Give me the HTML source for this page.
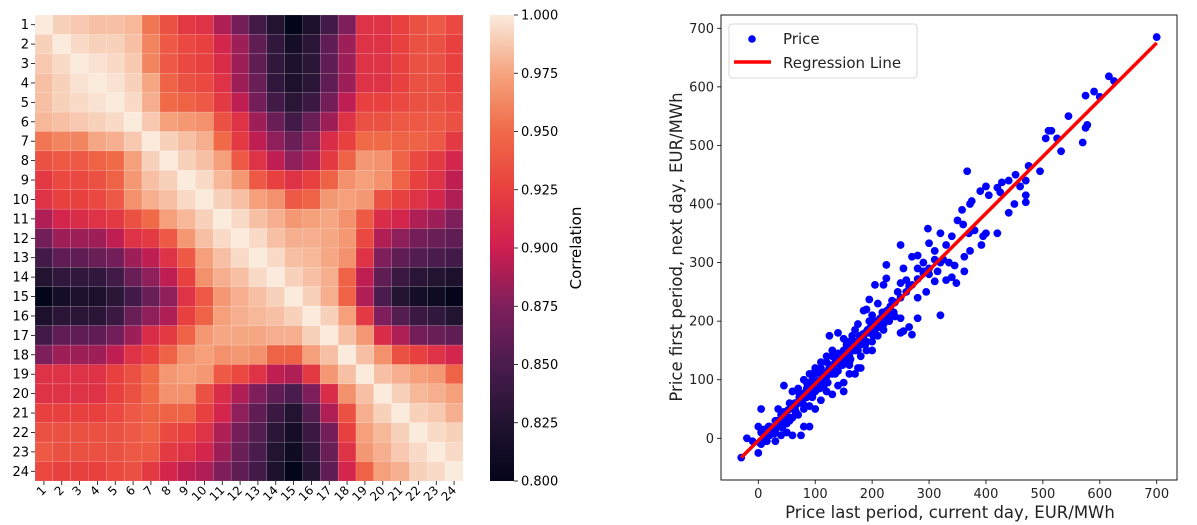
<!DOCTYPE html>
<html><head><meta charset="utf-8"><style>
body{margin:0;background:#fff;}
svg{display:block;font-family:"DejaVu Sans","Liberation Sans",sans-serif;}
</style></head><body>
<svg id="fig" width="1197" height="525" viewBox="0 0 1197 525">
<defs>
<linearGradient id="cbgrad" x1="0" y1="1" x2="0" y2="0">
<stop offset="0" stop-color="#03051a"/><stop offset="0.125" stop-color="#221331"/>
<stop offset="0.25" stop-color="#4a1c4d"/><stop offset="0.375" stop-color="#7e1f5c"/>
<stop offset="0.5" stop-color="#cf1e50"/><stop offset="0.625" stop-color="#e8403f"/>
<stop offset="0.75" stop-color="#f06a48"/><stop offset="0.875" stop-color="#f5a47f"/>
<stop offset="1" stop-color="#faebdd"/>
</linearGradient>
</defs>
<g id="heat"></g>
<g id="cbar"></g>
<g id="scat"></g>
</svg>
<script>
const hours = ["1","2","3","4","5","6","7","8","9","10","11","12","13","14","15","16","17","18","19","20","21","22","23","24"];
const upperRows = [
[1,.991,.988,.985,.985,.982,.955,.935,.92,.915,.89,.87,.845,.825,.80,.82,.845,.875,.915,.915,.925,.935,.94,.93],
[1,.994,.991,.991,.985,.961,.94,.93,.925,.905,.885,.86,.835,.815,.83,.86,.885,.915,.915,.925,.935,.935,.925],
[1,.997,.994,.988,.961,.94,.93,.925,.91,.885,.86,.835,.82,.83,.86,.885,.915,.915,.925,.935,.935,.925],
[1,.997,.991,.976,.945,.935,.93,.915,.885,.865,.835,.82,.83,.86,.885,.915,.915,.925,.935,.935,.925],
[1,.994,.979,.95,.945,.94,.92,.895,.87,.845,.83,.84,.87,.895,.925,.925,.93,.935,.935,.93],
[1,.988,.973,.97,.967,.935,.915,.885,.865,.845,.865,.885,.915,.935,.935,.94,.94,.94,.935],
[1,.991,.985,.979,.95,.92,.895,.88,.865,.88,.91,.925,.95,.95,.945,.945,.94,.92],
[1,.991,.985,.973,.94,.915,.895,.88,.89,.92,.945,.97,.967,.945,.93,.92,.905],
[1,.994,.982,.97,.94,.925,.915,.925,.945,.967,.973,.967,.945,.925,.915,.895],
[1,.991,.985,.973,.967,.94,.945,.97,.973,.97,.935,.925,.915,.905,.89],
[1,.994,.985,.979,.97,.973,.976,.967,.94,.91,.905,.89,.885,.875],
[1,.994,.985,.979,.979,.976,.97,.93,.89,.88,.87,.865,.86],
[1,.994,.985,.982,.976,.967,.915,.875,.86,.855,.85,.845],
[1,.991,.985,.979,.945,.895,.86,.84,.83,.825,.82],
[1,.991,.979,.945,.89,.85,.825,.815,.81,.80],
[1,.991,.973,.92,.875,.855,.84,.835,.825],
[1,.985,.97,.91,.89,.87,.865,.86],
[1,.985,.967,.935,.925,.915,.905],
[1,.985,.979,.973,.97,.945],
[1,.991,.982,.979,.973],
[1,.991,.988,.979],
[1,.994,.991],
[1,.994],
[1]
];
const cbTicks = [0.800,0.825,0.850,0.875,0.900,0.925,0.950,0.975,1.000];
const priceX = [700,616,625,590,575,600,545,510,515,505,525,532,570,575,578,495,475,452,470,470,470,450,440,460,440,428,420,425,367,400,390,405,375,372,358,350,360,340,370,380,395,400,420,392,372,362,348,362,340,330,310,320,298,300,330,250,225,225,205,220,270,280,290,300,310,320,335,345,295,280,280,320,270,265,250,255,240,250,230,235,245,255,260,265,250,280,290,300,315,325,310,200,190,200,195,190,185,195,210,215,220,205,200,175,170,165,160,155,150,140,125,130,120,110,100,90,95,85,80,70,60,75,65,55,45,35,40,30,20,10,5,0,-30,-20,0,10,20,30,40,50,60,70,80,90,75,80,90,100,110,120,130,140,150,150,160,170,175,180,145,135,125,115,105,100,95,85,75,65,55,45,35,25,15,5,-10,50,60,40,30,100,110,120,130,140,150,160,170,180,190,200,210,220,230,110,120,130,140,150,160,170,180,185,210,220,230,160,165,180,
 5,12,18,25,32,38,45,52,58,65,72,78,85,92,98,105,112,118,125,132,138,145,152,158,165,172,178,185,192,198,205,212,218,225,232,238,8,15,22,28,35,42,48,55,62,68,75,82,88,95,102,108,115,122,128,135,142,148,155,162,168,175,182,188,195,202,70,85,100,115,130,145,160,175,190,205,220,235,
 3,10,16,22,28,34,40,46,52,58,64,70,76,82,88,94,100,106,112,118,124,130,136,142,148,154,160,166,172,178,184,190,196,202,208,214,220,226,232,240,250,260,270,280,290];
const priceY = [685,618,610,592,585,583,550,525,525,512,512,490,505,530,535,456,465,450,440,415,403,400,385,430,440,437,428,420,456,430,422,415,405,400,390,372,365,345,350,355,345,350,350,330,320,310,265,285,275,270,268,350,358,333,330,330,296,273,262,262,310,312,300,290,305,300,300,295,250,240,205,210,177,190,180,183,208,205,215,235,250,290,270,260,265,290,285,280,285,305,320,150,150,165,200,220,218,237,230,200,185,190,210,195,185,175,165,160,170,180,175,150,140,130,120,110,100,95,100,80,80,70,55,60,90,50,40,30,20,15,50,-25,-33,0,20,0,5,10,20,25,35,40,50,55,5,20,20,50,65,80,75,90,95,80,110,110,120,140,125,130,120,110,95,80,75,70,60,45,35,25,20,10,-5,-10,-5,10,5,5,-5,110,120,130,140,145,150,155,165,175,180,185,200,210,220,100,105,110,115,135,140,150,160,175,175,195,200,130,150,120,
 10,0,20,12,30,22,45,35,55,48,70,60,85,75,95,90,110,100,125,115,135,130,150,140,160,155,175,165,185,180,200,190,215,205,225,215,-5,5,15,8,25,18,40,30,50,42,65,55,78,70,90,85,105,95,120,110,130,125,145,135,155,150,170,160,180,175,85,70,115,90,115,140,125,160,165,185,195,210,
 -8,2,8,18,15,28,32,38,48,52,60,62,72,78,80,88,95,98,108,112,118,122,128,135,140,145,152,158,162,168,178,182,188,195,200,205,215,218,225,232,240,250,262,272,282];
const regX = [-30,700];
const regY = [-33,675];
const xTicks = [0,100,200,300,400,500,600,700];
const yTicks = [0,100,200,300,400,500,600,700];

const NS="http://www.w3.org/2000/svg";
function mk(tag,attrs,parent){const e=document.createElementNS(NS,tag);for(const k in attrs)e.setAttribute(k,attrs[k]);parent.appendChild(e);return e;}
function hex(h){return [1,3,5].map(i=>parseInt(h.substr(i,2),16));}
const stops=[[0,"#03051a"],[.125,"#221331"],[.25,"#4a1c4d"],[.375,"#7e1f5c"],[.5,"#cf1e50"],[.625,"#e8403f"],[.75,"#f06a48"],[.875,"#f5a47f"],[1,"#faebdd"]];
function cmap(v){let t=(v-0.8)/0.2;t=Math.max(0,Math.min(1,t));for(let i=0;i<stops.length-1;i++){if(t<=stops[i+1][0]){const a=hex(stops[i][1]),b=hex(stops[i+1][1]);const f=(t-stops[i][0])/(stops[i+1][0]-stops[i][0]);return "rgb("+a.map((c,k)=>Math.round(c+(b[k]-c)*f)).join(",")+")";}}return stops[8][1];}

const heat=document.getElementById('heat');
const HX0=35,HY0=15,HW=428,HH=466,n=hours.length,cw=HW/n,ch=HH/n;
function corr(i,j){return i<=j?upperRows[i][j-i]:upperRows[j][i-j];}
for(let i=0;i<n;i++){for(let j=0;j<n;j++){
 const r=mk('rect',{x:HX0+j*cw,y:HY0+i*ch,width:cw,height:ch,fill:cmap(corr(i,j)),stroke:"rgba(255,255,255,0.25)","stroke-width":0.5},heat);
 
 
}}
for(let i=0;i<n;i++){
 const y=HY0+(i+0.5)*ch;
 mk('line',{x1:HX0-4,x2:HX0,y1:y,y2:y,stroke:"#000","stroke-width":0.8},heat);
 const t=mk('text',{x:HX0-6,y:y+4.5,"text-anchor":"end","font-size":13,fill:"#000"},heat);t.textContent=hours[i];
 
 
 const x=HX0+(i+0.5)*cw;
 mk('line',{x1:x,x2:x,y1:HY0+HH,y2:HY0+HH+4,stroke:"#000","stroke-width":0.8},heat);
 const u=mk('text',{x:x+3,y:HY0+HH+10,"text-anchor":"end","font-size":12,fill:"#000",transform:`rotate(-45 ${x+3} ${HY0+HH+10})`},heat);u.textContent=hours[i];
 
 
}
const cb=document.getElementById('cbar');
const CX=490,CW=24,CY0=15,CH=466;
mk('rect',{x:CX,y:CY0,width:CW,height:CH,fill:"url(#cbgrad)"},cb);
cbTicks.forEach(v=>{const y=CY0+CH-(v-0.8)/0.2*CH;
 mk('line',{x1:CX+CW,x2:CX+CW+4,y1:y,y2:y,stroke:"#000","stroke-width":0.8},cb);
 const t=mk('text',{x:CX+CW+7,y:y+4.5,"font-size":13,fill:"#000"},cb);t.textContent=v.toFixed(3);
 
 
});
const cl=mk('text',{x:581,y:248,"font-size":15,"text-anchor":"middle",fill:"#000",transform:"rotate(-90 581 248)"},cb);cl.textContent="Correlation";



const sc=document.getElementById('scat');
const AX0=721,AX1=1177,AY0=15,AY1=480;
const sx=v=>758.3+v*(1156.7-758.3)/700;
const sy=v=>438.3-v*(438.3-28.3)/700;
priceX.forEach((x,i)=>{const c=mk('circle',{cx:sx(x),cy:sy(priceY[i]),r:3.9,fill:"#0000ff"},sc);
 
 });
const rl=mk('line',{x1:sx(regX[0]),y1:sy(regY[0]),x2:sx(regX[1]),y2:sy(regY[1]),stroke:"#ff0000","stroke-width":3.5},sc);


mk('rect',{x:AX0,y:AY0,width:AX1-AX0,height:AY1-AY0,fill:"none",stroke:"#000","stroke-width":0.9},sc);
xTicks.forEach(v=>{const x=sx(v);mk('line',{x1:x,x2:x,y1:AY1,y2:AY1+4,stroke:"#000","stroke-width":0.8},sc);
 const t=mk('text',{x:x,y:AY1+18,"text-anchor":"middle","font-size":13,fill:"#222"},sc);t.textContent=v;
 
 });
yTicks.forEach(v=>{const y=sy(v);mk('line',{x1:AX0-4,x2:AX0,y1:y,y2:y,stroke:"#000","stroke-width":0.8},sc);
 const t=mk('text',{x:AX0-7,y:y+4.5,"text-anchor":"end","font-size":13,fill:"#222"},sc);t.textContent=v;
 
 });
const xl=mk('text',{x:950,y:518,"text-anchor":"middle","font-size":16.5,fill:"#222"},sc);xl.textContent="Price last period, current day, EUR/MWh";


const yl=mk('text',{x:682,y:247,"text-anchor":"middle","font-size":16.5,fill:"#222",transform:"rotate(-90 682 247)"},sc);yl.textContent="Price first period, next day, EUR/MWh";


const lg=mk('g',{},sc);


mk('rect',{x:729,y:24,width:188,height:54,rx:3,fill:"#fff","fill-opacity":0.8,stroke:"#ccc","stroke-width":0.8},lg);
mk('circle',{cx:752,cy:39,r:3.8,fill:"#0000ff"},lg);
const l1=mk('text',{x:783,y:44,"font-size":15,fill:"#222"},lg);l1.textContent="Price";


mk('line',{x1:734,x2:771,y1:62,y2:62,stroke:"#ff0000","stroke-width":3.5},lg);
const l2=mk('text',{x:783,y:68,"font-size":15,fill:"#222"},lg);l2.textContent="Regression Line";


</script>
</body></html>
